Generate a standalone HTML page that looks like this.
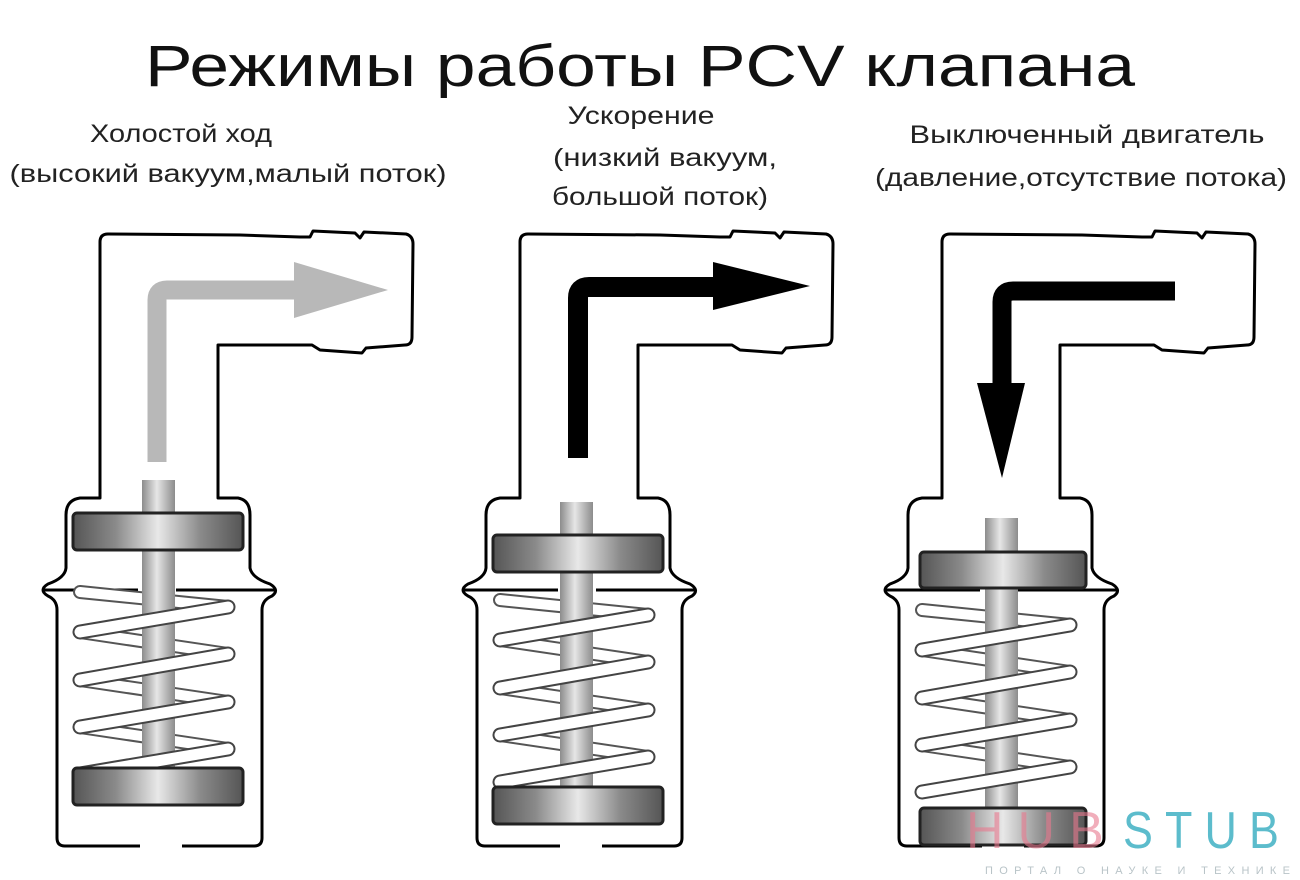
<!DOCTYPE html>
<html><head><meta charset="utf-8"><style>
html,body{margin:0;padding:0;background:#fff;width:1300px;height:880px;overflow:hidden}
svg{display:block}
</style></head><body>
<svg width="1300" height="880" viewBox="0 0 1300 880" xmlns="http://www.w3.org/2000/svg">
<defs>
<linearGradient id="disk" x1="0" x2="1" y1="0" y2="0">
<stop offset="0" stop-color="#555"/><stop offset="0.25" stop-color="#8a8a8a"/><stop offset="0.5" stop-color="#e8e8e8"/><stop offset="0.75" stop-color="#8a8a8a"/><stop offset="1" stop-color="#555"/>
</linearGradient>
<linearGradient id="stem" x1="0" x2="1" y1="0" y2="0">
<stop offset="0" stop-color="#8c8c8c"/><stop offset="0.45" stop-color="#e6e6e6"/><stop offset="1" stop-color="#8c8c8c"/>
</linearGradient>
<g id="body">
<path d="M140,846 L65,846 Q57,846 57,838 L57,610 Q57,600 48,596 Q38,590 48,584 Q65,578 66,568 L66,515 Q66,500 80,498 L100,498 L100,242 Q100,234 108,234 L240,235 L300,237 L310,237 L313,231 L355,233 L360,238 L364,232 L406,234 Q413,236 413,244 L412,337 Q412,345 405,345 L366,348 L362,353 L320,350 L312,345 L218,345 L218,498 L238,498 Q250,500 250,515 L250,568 Q252,578 270,584 Q280,590 272,596 Q262,600 262,610 L262,838 Q262,846 254,846 L182,846" fill="#fff" stroke="#000" stroke-width="3" stroke-linejoin="round"/>
<path d="M44,590 L138,590 M176,590 L276,590" stroke="#000" stroke-width="3"/>
</g>
<g id="springBack" fill="none">
<path d="M80,600 L228,615 M80,640 L228,662 M80,688 L228,710 M80,735 L228,757" stroke="#555" stroke-width="14" stroke-linecap="round"/>
<path d="M80,600 L228,615 M80,640 L228,662 M80,688 L228,710 M80,735 L228,757" stroke="#fff" stroke-width="10" stroke-linecap="round"/>
</g>
<g id="springFront" fill="none">
<path d="M228,615 L80,640 M228,662 L80,688 M228,710 L80,735 M228,757 L80,782" stroke="#444" stroke-width="15" stroke-linecap="round"/>
<path d="M228,615 L80,640 M228,662 L80,688 M228,710 L80,735 M228,757 L80,782" stroke="#fff" stroke-width="11" stroke-linecap="round"/>
</g>
</defs>

<text x="640" y="86" font-family="Liberation Sans, sans-serif" font-size="58" text-anchor="middle" textLength="990" lengthAdjust="spacingAndGlyphs" fill="#111">Режимы работы PCV клапана</text>

<g font-family="Liberation Sans, sans-serif" font-size="25" fill="#222" text-anchor="middle">
<text x="181" y="142" textLength="182" lengthAdjust="spacingAndGlyphs">Холостой ход</text>
<text x="228" y="182" textLength="437" lengthAdjust="spacingAndGlyphs">(высокий вакуум,малый поток)</text>
<text x="641" y="124" textLength="147" lengthAdjust="spacingAndGlyphs">Ускорение</text>
<text x="665" y="166" textLength="224" lengthAdjust="spacingAndGlyphs">(низкий вакуум,</text>
<text x="660" y="205" textLength="216" lengthAdjust="spacingAndGlyphs">большой поток)</text>
<text x="1087" y="143" textLength="355" lengthAdjust="spacingAndGlyphs">Выключенный двигатель</text>
<text x="1081" y="186" textLength="412" lengthAdjust="spacingAndGlyphs">(давление,отсутствие потока)</text>
</g>

<!-- Valve 1 -->
<g>
<use href="#body"/>
<g transform="translate(0,-8)"><use href="#springBack"/></g>
<rect x="142" y="480" width="33" height="300" fill="url(#stem)"/>
<g transform="translate(0,-8)"><use href="#springFront"/></g>
<rect x="73" y="513" width="170" height="37" rx="4" fill="url(#disk)" stroke="#222" stroke-width="3"/>
<rect x="73" y="768" width="170" height="37" rx="4" fill="url(#disk)" stroke="#222" stroke-width="3"/>
<path d="M157,462 L157,300 Q157,290 167,290 L296,290" fill="none" stroke="#b8b8b8" stroke-width="19"/>
<polygon points="294,262 388,290 294,318" fill="#b8b8b8"/>
</g>

<!-- Valve 2 -->
<g transform="translate(420,0)">
<use href="#body"/>
<use href="#springBack"/>
<rect x="140" y="502" width="33" height="290" fill="url(#stem)"/>
<use href="#springFront"/>
<rect x="73" y="535" width="170" height="37" rx="4" fill="url(#disk)" stroke="#222" stroke-width="3"/>
<rect x="73" y="787" width="170" height="37" rx="4" fill="url(#disk)" stroke="#222" stroke-width="3"/>
<path d="M158,458 L158,298 Q158,287 169,287 L296,287" fill="none" stroke="#000" stroke-width="20"/>
<polygon points="293,262 390,286 293,310" fill="#000"/>
</g>

<!-- Valve 3 -->
<g transform="translate(842,0)">
<use href="#body"/>
<g transform="translate(0,10)"><use href="#springBack"/></g>
<rect x="143" y="518" width="33" height="290" fill="url(#stem)"/>
<g transform="translate(0,10)"><use href="#springFront"/></g>
<rect x="78" y="552" width="166" height="36" rx="4" fill="url(#disk)" stroke="#222" stroke-width="3"/>
<rect x="78" y="808" width="166" height="37" rx="4" fill="url(#disk)" stroke="#222" stroke-width="3"/>
<path d="M333,291 L171,291 Q160,291 160,302 L160,386" fill="none" stroke="#000" stroke-width="19"/>
<polygon points="135,383 183,383 160,478" fill="#000"/>
</g>

<!-- watermark -->
<text x="966" y="848" font-family="Liberation Sans, sans-serif" font-size="52" letter-spacing="14" fill="#e8788e" fill-opacity="0.6">HUB</text>
<text x="1123" y="848" font-family="Liberation Sans, sans-serif" font-size="52" letter-spacing="14" fill="#5cbccc" textLength="168" lengthAdjust="spacingAndGlyphs">STUB</text>
<text x="985" y="874" font-family="Liberation Sans, sans-serif" font-size="11" fill="#b9c4c8" textLength="305" lengthAdjust="spacing">ПОРТАЛ О НАУКЕ И ТЕХНИКЕ</text>
</svg>
</body></html>
